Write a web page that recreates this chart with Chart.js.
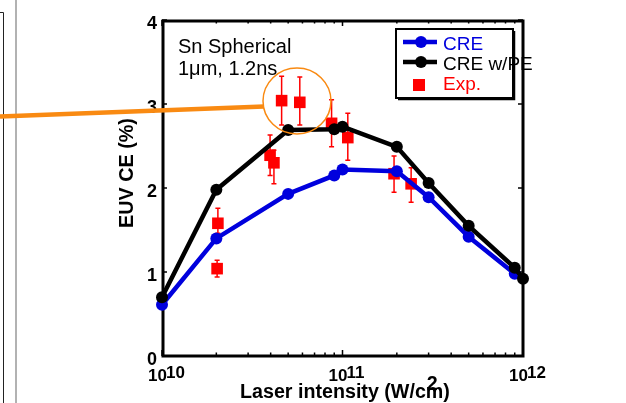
<!DOCTYPE html>
<html>
<head>
<meta charset="utf-8">
<script src="https://cdn.jsdelivr.net/npm/chart.js@4.4.1/dist/chart.umd.min.js"></script>
<style>
  html, body { margin: 0; padding: 0; background: #fff; }
  #wrap { width: 626px; height: 403px; }
</style>
</head>
<body>
<div id="wrap"><canvas id="ceChart" width="626" height="403"></canvas></div>
<script>
// model curves
const creX = [1e10, 2e10, 5e10, 9e10, 1e11, 2e11, 3e11, 5e11, 9e11];
const creY = [0.61, 1.40, 1.93, 2.15, 2.22, 2.20, 1.89, 1.42, 0.98];
const crePeX = [1e10, 2e10, 5e10, 9e10, 1e11, 2e11, 3e11, 5e11, 9e11, 1e12];
const crePeY = [0.70, 1.98, 2.69, 2.70, 2.73, 2.49, 2.06, 1.55, 1.05, 0.92];

// experiment with error bars
const expX = [4.6e10, 5.8e10, 3.97e10, 4.17e10, 8.7e10, 1.07e11, 1.93e11, 2.4e11, 2.04e10, 2.02e10];
const expY = [3.04, 3.02, 2.39, 2.30, 2.77, 2.60, 2.17, 2.05, 1.58, 1.04];
const expLow = [2.75, 2.75, 2.15, 2.05, 2.49, 2.33, 1.95, 1.83, 1.46, 0.94];
const expHigh = [3.33, 3.32, 2.63, 2.45, 3.05, 2.89, 2.38, 2.24, 1.76, 1.14];

// axes
const xMajor = [1e10, 1e11, 1e12];
const xExponents = ["10", "11", "12"];
const xMinorMult = [2, 3, 4, 5, 6, 7, 8, 9];
const yTicks = [0, 1, 2, 3, 4];
const yTickLabels = ["0", "1", "2", "3", "4"];

const FONT = '"Liberation Sans", Arial, Helvetica, sans-serif';
const BLUE = "#0000dd";
const RED = "#ff0000";
const ORANGE = "#f98a12";

function toPoints(xs, ys) {
  return xs.map((x, i) => ({ x: x, y: ys[i] }));
}

// bold font size that makes text fill a given width
function fitFont(ctx, text, width, weight) {
  ctx.font = weight + " 20px " + FONT;
  const size = (20 * width) / ctx.measureText(text).width;
  ctx.font = weight + " " + size.toFixed(2) + "px " + FONT;
  return size;
}

const decorPlugin = {
  id: "decor",
  beforeDatasetsDraw(chart) {
    const ctx = chart.ctx;
    const xs = chart.scales.x;
    const ys = chart.scales.y;
    const a = chart.chartArea;

    // error bars under the squares
    ctx.save();
    ctx.strokeStyle = RED;
    ctx.lineWidth = 1.5;
    expX.forEach((x, i) => {
      const px = xs.getPixelForValue(x);
      const top = ys.getPixelForValue(expHigh[i]);
      const bot = ys.getPixelForValue(expLow[i]);
      ctx.beginPath();
      ctx.moveTo(px, top);
      ctx.lineTo(px, bot);
      ctx.moveTo(px - 2.5, top);
      ctx.lineTo(px + 2.5, top);
      ctx.moveTo(px - 2.5, bot);
      ctx.lineTo(px + 2.5, bot);
      ctx.stroke();
    });
    ctx.restore();

    // frame and inward ticks
    ctx.save();
    ctx.strokeStyle = "#000";
    ctx.lineWidth = 3;
    ctx.strokeRect(a.left + 1, a.top + 1, a.right - a.left - 1, a.bottom - a.top - 1);

    ctx.lineWidth = 1.5;
    ctx.beginPath();
    for (let d = 0; d < xMajor.length; d++) {
      const px = xs.getPixelForValue(xMajor[d]);
      ctx.moveTo(px, a.bottom);
      ctx.lineTo(px, a.bottom - 6);
      ctx.moveTo(px, a.top);
      ctx.lineTo(px, a.top + 6);
      if (d < xMajor.length - 1) {
        xMinorMult.forEach((m) => {
          const mx = xs.getPixelForValue(xMajor[d] * m);
          ctx.moveTo(mx, a.bottom);
          ctx.lineTo(mx, a.bottom - 3.5);
          ctx.moveTo(mx, a.top);
          ctx.lineTo(mx, a.top + 3.5);
        });
      }
    }
    yTicks.forEach((v) => {
      const py = ys.getPixelForValue(v);
      ctx.moveTo(a.left, py);
      ctx.lineTo(a.left + 5, py);
      ctx.moveTo(a.right, py);
      ctx.lineTo(a.right - 5, py);
    });
    ctx.stroke();
    ctx.restore();
  },
  afterDraw(chart) {
    const ctx = chart.ctx;
    const xs = chart.scales.x;
    const ys = chart.scales.y;
    ctx.save();

    // left page borders
    ctx.strokeStyle = "#222";
    ctx.lineWidth = 1;
    ctx.beginPath();
    ctx.moveTo(0, 12.5);
    ctx.lineTo(3.5, 12.5);
    ctx.lineTo(3.5, 403);
    ctx.stroke();
    ctx.strokeStyle = "#999";
    ctx.lineWidth = 1.5;
    ctx.beginPath();
    ctx.moveTo(16, 0);
    ctx.lineTo(16, 403);
    ctx.stroke();

    // y tick labels
    ctx.fillStyle = "#000";
    ctx.font = "bold 18px " + FONT;
    ctx.textAlign = "right";
    ctx.textBaseline = "middle";
    yTicks.forEach((v, i) => {
      ctx.fillText(yTickLabels[i], 157, ys.getPixelForValue(v) + 4);
    });

    // x tick labels 10^n
    ctx.textAlign = "left";
    ctx.textBaseline = "alphabetic";
    ctx.font = "bold 17px " + FONT;
    xMajor.forEach((v, i) => {
      const px = xs.getPixelForValue(v);
      ctx.fillText("10", px - 14, 381);
      ctx.fillText(xExponents[i], px + 4, 378);
    });

    // axis titles
    const xTitle = "Laser intensity (W/cm)";
    fitFont(ctx, xTitle, 210, "bold");
    ctx.fillText(xTitle, 240, 398);
    const mPos = 240 + ctx.measureText("Laser intensity (W/c").width;
    ctx.fillText("2", mPos + 1, 390);

    ctx.save();
    ctx.translate(133, 173);
    ctx.rotate(-Math.PI / 2);
    ctx.textAlign = "center";
    fitFont(ctx, "EUV CE (%)", 110, "bold");
    ctx.fillText("EUV CE (%)", 0, 0);
    ctx.restore();

    // annotation
    ctx.font = "20px " + FONT;
    ctx.fillText("Sn Spherical", 178, 53);
    ctx.fillText("1\u03bcm, 1.2ns", 178, 75);

    // legend
    ctx.strokeStyle = "#000";
    ctx.lineWidth = 2;
    ctx.strokeRect(396, 29, 117, 69);
    ctx.lineWidth = 1.5;
    ctx.beginPath();
    ctx.moveTo(398, 99.5);
    ctx.lineTo(514.5, 99.5);
    ctx.lineTo(514.5, 31);
    ctx.stroke();
    [[BLUE, 42], ["#000", 62]].forEach(([c, y]) => {
      ctx.strokeStyle = c;
      ctx.fillStyle = c;
      ctx.lineWidth = 4.5;
      ctx.beginPath();
      ctx.moveTo(403, y);
      ctx.lineTo(437, y);
      ctx.stroke();
      ctx.beginPath();
      ctx.arc(421, y, 6, 0, Math.PI * 2);
      ctx.fill();
    });
    ctx.fillStyle = RED;
    ctx.fillRect(413, 79, 12, 12);
    ctx.font = "19px " + FONT;
    ctx.textBaseline = "middle";
    ctx.fillStyle = BLUE;
    ctx.fillText("CRE", 443, 45);
    ctx.fillStyle = "#000";
    ctx.fillText("CRE w/PE", 443, 65);
    ctx.fillStyle = RED;
    ctx.fillText("Exp.", 443, 85);

    // orange callout
    ctx.strokeStyle = ORANGE;
    ctx.lineWidth = 4.5;
    ctx.beginPath();
    ctx.moveTo(0, 116.5);
    ctx.lineTo(264, 106.5);
    ctx.stroke();
    ctx.lineWidth = 1.5;
    ctx.beginPath();
    ctx.ellipse(297, 101, 34, 33, 0, 0, Math.PI * 2);
    ctx.stroke();

    ctx.restore();
  },
};

new Chart(document.getElementById("ceChart"), {
  type: "scatter",
  data: {
    datasets: [
      {
        label: "CRE w/PE",
        data: toPoints(crePeX, crePeY),
        showLine: true,
        borderColor: "#000",
        backgroundColor: "#000",
        borderWidth: 4.5,
        pointRadius: 6,
        pointBorderWidth: 0,
        clip: false,
        order: 0,
      },
      {
        label: "CRE",
        data: toPoints(creX, creY),
        showLine: true,
        borderColor: BLUE,
        backgroundColor: BLUE,
        borderWidth: 4.5,
        pointRadius: 6,
        pointBorderWidth: 0,
        clip: false,
        order: 1,
      },
      {
        label: "Exp.",
        data: toPoints(expX, expY),
        showLine: false,
        pointStyle: "rect",
        backgroundColor: RED,
        borderColor: RED,
        pointRadius: 8.2,
        pointBorderWidth: 0,
        clip: false,
        order: 2,
      },
    ],
  },
  options: {
    responsive: false,
    animation: false,
    devicePixelRatio: 1,
    layout: { padding: { left: 162, right: 103, top: 20, bottom: 47 } },
    plugins: { legend: { display: false }, tooltip: { enabled: false } },
    scales: {
      x: { type: "logarithmic", min: 1e10, max: 1e12, display: false },
      y: { type: "linear", min: 0, max: 4, display: false },
    },
  },
  plugins: [decorPlugin],
});
</script>
</body>
</html>
